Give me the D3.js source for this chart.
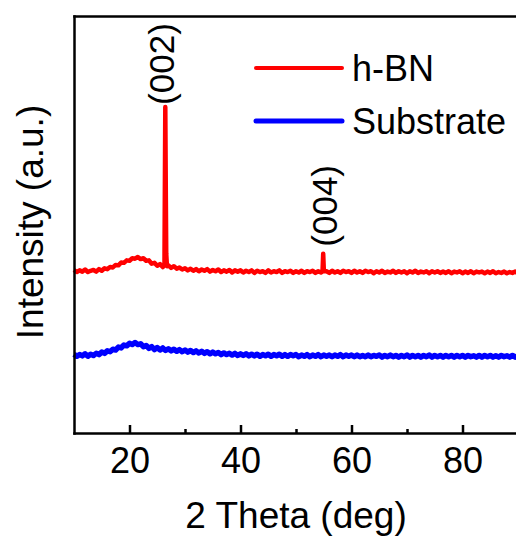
<!DOCTYPE html>
<html>
<head>
<meta charset="utf-8">
<script src="https://cdn.jsdelivr.net/npm/d3@7"></script>
<style>
  body { margin: 0; background: #fff; }
  svg text { font-family: "Liberation Sans", Arial, sans-serif; fill: #000; }
</style>
</head>
<body>
<script>
// 2 theta grid, 10..90 deg every 0.5 deg
var angles = d3.range(10, 90.25, 0.5);

// intensity (a.u.), one value per grid angle
var hbnValues = [
  391, 386, 390, 387, 392, 386, 389, 391, 387, 393,
  389, 395, 393, 398, 397, 403, 402, 409, 408, 414,
  413, 419, 418, 422, 417, 419, 413, 414, 406, 408,
  401, 405, 398, 400, 402, 396, 400, 394, 397, 392,
  395, 390, 394, 389, 393, 388, 392, 389, 393, 387,
  391, 388, 392, 386, 390, 387, 391, 385, 390, 387,
  390, 385, 389, 386, 390, 384, 389, 386, 388, 384,
  390, 385, 388, 386, 390, 384, 388, 386, 389, 384,
  388, 385, 389, 384, 388, 386, 389, 384, 388, 385,
  386, 388, 384, 389, 385, 388, 384, 389, 386, 388,
  384, 389, 385, 388, 384, 389, 386, 388, 383, 388,
  385, 389, 384, 387, 385, 389, 384, 388, 385, 388,
  383, 388, 385, 389, 384, 387, 385, 388, 383, 388,
  385, 388, 384, 387, 384, 388, 383, 387, 385, 388,
  383, 387, 384, 388, 383, 387, 385, 387, 383, 387,
  384, 388, 383, 386, 384, 387, 383, 386, 384, 387,
  383
];

var substrateValues = [
  189, 184, 188, 185, 190, 184, 189, 186, 191, 188,
  194, 191, 197, 195, 201, 199, 206, 204, 211, 209,
  215, 212, 217, 212, 214, 207, 210, 203, 207, 200,
  205, 199, 204, 198, 202, 197, 201, 196, 200, 195,
  199, 194, 198, 193, 197, 192, 196, 191, 195, 190,
  194, 190, 193, 188, 192, 188, 191, 187, 191, 186,
  190, 186, 190, 185, 189, 185, 189, 184, 188, 185,
  189, 184, 188, 185, 189, 184, 188, 184, 188, 185,
  188, 183, 187, 184, 188, 183, 187, 184, 188, 183,
  187, 184, 187, 183, 187, 184, 188, 183, 187, 184,
  187, 183, 187, 183, 186, 183, 187, 183, 186, 184,
  187, 182, 186, 183, 187, 183, 186, 182, 186, 183,
  187, 182, 186, 183, 186, 182, 186, 183, 187, 182,
  186, 183, 186, 182, 186, 183, 186, 182, 186, 183,
  186, 182, 186, 183, 185, 182, 186, 182, 186, 183,
  186, 182, 185, 182, 186, 183, 185, 182, 186, 182,
  185
];

// sharp h-BN reflections [angle, intensity]
var peak002 = [[26.3, 403], [26.45, 782], [26.55, 560], [26.62, 430], [26.75, 400]];
var peak004 = [[54.78, 387], [54.9, 430], [55.02, 388]];

var peakLabels = ["(002)", "(004)"];
var peakLabelAngles = [26.45, 54.9];
var peakLabelValues = [782, 430];

var seriesNames = ["h-BN", "Substrate"];
var seriesColors = ["#ff0000", "#0000ff"];

var xTicks = [20, 40, 60, 80];
var xMinorTicks = [30, 50, 70];

var width = 516,
  height = 543;

var x = d3.scaleLinear().domain([10, 90]).range([74, 518]);
var y = d3.scaleLinear().domain([0, 1000]).range([433, 16]);

var peaks = [peak002, peak004];

function inPeak(a) {
  return peaks.some(function (p) { return a >= p[0][0] && a <= p[p.length - 1][0]; });
}

var hbn = angles.map(function (a, i) { return [a, hbnValues[i]]; })
  .filter(function (d) { return !inPeak(d[0]); })
  .concat(peak002, peak004)
  .sort(function (a, b) { return a[0] - b[0]; });

var substrate = angles.map(function (a, i) { return [a, substrateValues[i]]; });

var svg = d3.select("body")
  .append("svg")
  .attr("width", width)
  .attr("height", height);

var line = d3.line()
  .x(function (d) { return x(d[0]); })
  .y(function (d) { return y(d[1]); });

svg.append("path")
  .datum(substrate)
  .attr("d", line)
  .style("fill", "none")
  .style("stroke", seriesColors[1])
  .style("stroke-width", 5.5)
  .style("stroke-linejoin", "round");

svg.append("path")
  .datum(hbn)
  .attr("d", line)
  .style("fill", "none")
  .style("stroke", seriesColors[0])
  .style("stroke-width", 4.5)
  .style("stroke-linejoin", "round");

// peak labels, rotated
var labelShift = [[9, 2], [14, 7]];
svg.selectAll(".peak-label")
  .data(peakLabels)
  .enter().append("text")
  .attr("class", "peak-label")
  .attr("transform", function (d, i) {
    return "translate(" + (x(peakLabelAngles[i]) + labelShift[i][0]) + "," + (y(peakLabelValues[i]) - labelShift[i][1]) + ") rotate(-90)";
  })
  .style("font-size", "35px")
  .text(function (d) { return d; });

// axes
var xAxis = svg.append("g")
  .attr("transform", "translate(0," + y(0) + ")")
  .call(d3.axisBottom(x).tickValues(xTicks).tickSizeInner(-8).tickSizeOuter(0));

xAxis.selectAll("text")
  .attr("y", 40)
  .attr("dy", 0)
  .style("font-size", "36px");

var xMinor = svg.append("g")
  .attr("transform", "translate(0," + y(0) + ")")
  .call(d3.axisBottom(x).tickValues(xMinorTicks).tickSizeInner(-4).tickSizeOuter(0).tickFormat(""));

xMinor.select(".domain").remove();

var yAxis = svg.append("g")
  .attr("transform", "translate(" + x(10) + ",0)")
  .call(d3.axisLeft(y).tickValues([]).tickSizeOuter(0));

var topAxis = svg.append("g")
  .attr("transform", "translate(0," + y(1000) + ")")
  .call(d3.axisTop(x).tickValues([]).tickSizeOuter(0));

svg.selectAll(".domain")
  .style("stroke", "#000")
  .style("stroke-width", 2.5)
  .style("stroke-linecap", "square");

svg.selectAll(".tick line")
  .style("stroke", "#000")
  .style("stroke-width", 2.5);

svg.append("text")
  .attr("x", 296)
  .attr("y", 528)
  .attr("text-anchor", "middle")
  .style("font-size", "37px")
  .text("2 Theta (deg)");

svg.append("text")
  .attr("transform", "translate(43,222) rotate(-90)")
  .attr("text-anchor", "middle")
  .style("font-size", "37px")
  .text("Intensity (a.u.)");

// legend
var legend = svg.selectAll(".legend")
  .data(seriesNames)
  .enter().append("g")
  .attr("class", "legend")
  .attr("transform", function (d, i) { return "translate(256," + (68 + i * 53) + ")"; });

legend.append("line")
  .attr("x1", 0)
  .attr("x2", 86)
  .style("stroke", function (d, i) { return seriesColors[i]; })
  .style("stroke-width", function (d, i) { return i ? 5 : 4; })
  .style("stroke-linecap", "round");

legend.append("text")
  .attr("x", 96)
  .attr("y", 13)
  .style("font-size", "36px")
  .text(function (d) { return d; });
</script>
</body>
</html>
